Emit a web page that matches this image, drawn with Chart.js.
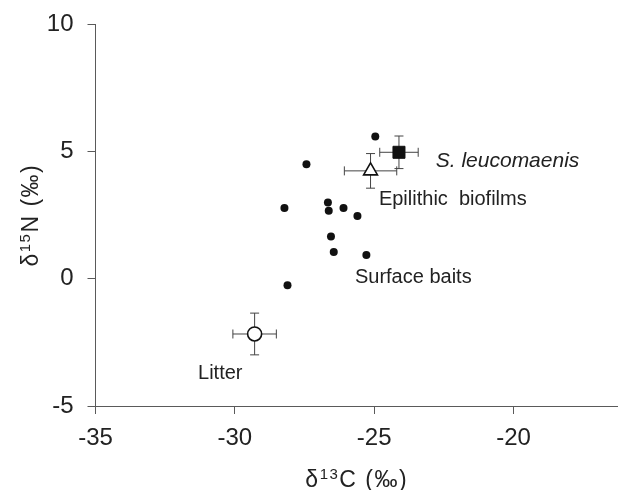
<!DOCTYPE html>
<html>
<head>
<meta charset="utf-8">
<script src="https://cdn.jsdelivr.net/npm/chart.js@4/dist/chart.umd.min.js"></script>
<style>
  html, body { margin: 0; padding: 0; background: #fff; }
  #wrap { width: 618px; height: 490px; }
</style>
</head>
<body>
<div id="wrap"><canvas id="isoChart" width="618" height="490"></canvas></div>
<script>
// surface bait samples (single points)
const baitsX = [-24.96, -27.43, -28.22, -26.66, -26.63, -26.10, -25.60, -26.55, -26.45, -25.28, -28.11];
const baitsY = [5.59, 4.50, 2.78, 3.00, 2.67, 2.78, 2.47, 1.66, 1.05, 0.93, -0.25];

// group means with SD
const groupNames = ["S. leucomaenis", "Epilithic biofilms", "Litter"];
const meanX = [-24.11, -25.13, -29.29];
const meanY = [4.97, 4.24, -2.17];
const sdX = [0.69, 0.94, 0.78];
const sdY = [0.64, 0.68, 0.82];

// text labels (left edge, vertical middle, in data units)
const labelText = ["S. leucomaenis", "Epilithic  biofilms", "Surface baits", "Litter"];
const labelItalic = [true, false, false, false];
const labelX = [-22.79, -24.83, -25.69, -31.32];
const labelY = [4.63, 3.13, 0.05, -3.73];

const xTicks = [-35, -30, -25, -20];
const yTicks = [-5, 0, 5, 10];

const axisColor = "#5a5a5a";
const textColor = "#222";
const fontFamily = "'Liberation Sans', Arial, sans-serif";

const errorBars = {
  id: "errorBars",
  beforeDatasetsDraw(chart) {
    const { ctx, scales: { x, y } } = chart;
    const cap = 4.5;
    ctx.save();
    ctx.strokeStyle = "#444";
    ctx.lineWidth = 1;
    meanX.forEach((mx, i) => {
      const px = x.getPixelForValue(mx);
      const py = y.getPixelForValue(meanY[i]);
      const x0 = x.getPixelForValue(mx - sdX[i]);
      const x1 = x.getPixelForValue(mx + sdX[i]);
      const y0 = y.getPixelForValue(meanY[i] + sdY[i]);
      const y1 = y.getPixelForValue(meanY[i] - sdY[i]);
      ctx.beginPath();
      ctx.moveTo(x0, py); ctx.lineTo(x1, py);
      ctx.moveTo(x0, py - cap); ctx.lineTo(x0, py + cap);
      ctx.moveTo(x1, py - cap); ctx.lineTo(x1, py + cap);
      ctx.moveTo(px, y0); ctx.lineTo(px, y1);
      ctx.moveTo(px - cap, y0); ctx.lineTo(px + cap, y0);
      ctx.moveTo(px - cap, y1); ctx.lineTo(px + cap, y1);
      ctx.stroke();
    });
    ctx.restore();
  }
};

function drawSupText(ctx, parts, cx, cy) {
  // parts: [text, size, raise]
  ctx.letterSpacing = "1.5px";
  let total = 0;
  parts.forEach(p => {
    ctx.font = p[1] + "px " + fontFamily;
    total += ctx.measureText(p[0]).width;
  });
  let pos = -total / 2;
  parts.forEach(p => {
    ctx.font = p[1] + "px " + fontFamily;
    ctx.fillText(p[0], cx + pos, cy - p[2]);
    pos += ctx.measureText(p[0]).width;
  });
  ctx.letterSpacing = "0px";
}

const textLabels = {
  id: "textLabels",
  afterDraw(chart) {
    const { ctx, chartArea, scales: { x, y } } = chart;
    ctx.save();
    ctx.fillStyle = textColor;
    ctx.textBaseline = "middle";
    ctx.textAlign = "left";
    labelText.forEach((t, i) => {
      ctx.font = (labelItalic[i] ? "italic 21px " : "20px ") + fontFamily;
      ctx.fillText(t, x.getPixelForValue(labelX[i]), y.getPixelForValue(labelY[i]));
    });

    // axis titles with superscripts
    ctx.textBaseline = "alphabetic";
    drawSupText(ctx, [["δ", 23, 0], ["13", 15, 8], ["C (‰)", 23, 0]],
      (chartArea.left + chartArea.right) / 2, 487);

    ctx.translate(38, (chartArea.top + chartArea.bottom) / 2);
    ctx.rotate(-Math.PI / 2);
    drawSupText(ctx, [["δ", 23, 0], ["15", 15, 8], ["N (‰)", 23, 0]], 0, 0);
    ctx.restore();
  }
};

const ctx = document.getElementById("isoChart").getContext("2d");

const myChart = new Chart(ctx, {
  type: "scatter",
  data: {
    datasets: [
      {
        label: "Surface baits",
        data: baitsX.map((v, i) => ({ x: v, y: baitsY[i] })),
        pointStyle: "circle",
        pointRadius: 4,
        backgroundColor: "#111",
        borderColor: "#111",
        borderWidth: 0
      },
      {
        label: groupNames[0],
        data: [{ x: meanX[0], y: meanY[0] }],
        pointStyle: "rect",
        pointRadius: 8.5,
        backgroundColor: "#111",
        borderColor: "#111",
        borderWidth: 1
      },
      {
        label: groupNames[1],
        data: [{ x: meanX[1], y: meanY[1] }],
        pointStyle: "triangle",
        pointRadius: 8,
        backgroundColor: "#fff",
        borderColor: "#111",
        borderWidth: 1.6
      },
      {
        label: groupNames[2],
        data: [{ x: meanX[2], y: meanY[2] }],
        pointStyle: "circle",
        pointRadius: 7,
        backgroundColor: "#fff",
        borderColor: "#111",
        borderWidth: 1.6
      }
    ]
  },
  options: {
    responsive: false,
    animation: false,
    devicePixelRatio: 1,
    clip: false,
    layout: { autoPadding: false, padding: { top: 24.3, right: 0, left: 0, bottom: 0 } },
    plugins: {
      legend: { display: false },
      tooltip: { enabled: false }
    },
    scales: {
      x: {
        type: "linear",
        min: -35,
        max: -16.25,
        afterBuildTicks: (scale) => {
          scale.ticks = xTicks.map(v => ({ value: v }));
        },
        afterFit: (scale) => {
          scale.height = 84;
          scale.paddingLeft = 0;
          scale.paddingRight = 0;
        },
        ticks: {
          color: textColor,
          font: { family: fontFamily, size: 24 },
          padding: 10,
          maxRotation: 0
        },
        grid: {
          drawOnChartArea: false,
          drawTicks: true,
          tickLength: 8,
          color: axisColor
        },
        border: { display: true, color: axisColor, width: 1 }
      },
      y: {
        type: "linear",
        min: -5,
        max: 10,
        afterBuildTicks: (scale) => {
          scale.ticks = yTicks.map(v => ({ value: v }));
        },
        afterFit: (scale) => {
          scale.width = 95.5;
          scale.paddingTop = 0;
          scale.paddingBottom = 0;
        },
        ticks: {
          color: textColor,
          font: { family: fontFamily, size: 24 },
          padding: 14
        },
        grid: {
          drawOnChartArea: false,
          drawTicks: true,
          tickLength: 8,
          color: axisColor
        },
        border: { display: true, color: axisColor, width: 1 }
      }
    }
  },
  plugins: [errorBars, textLabels]
});
</script>
</body>
</html>
